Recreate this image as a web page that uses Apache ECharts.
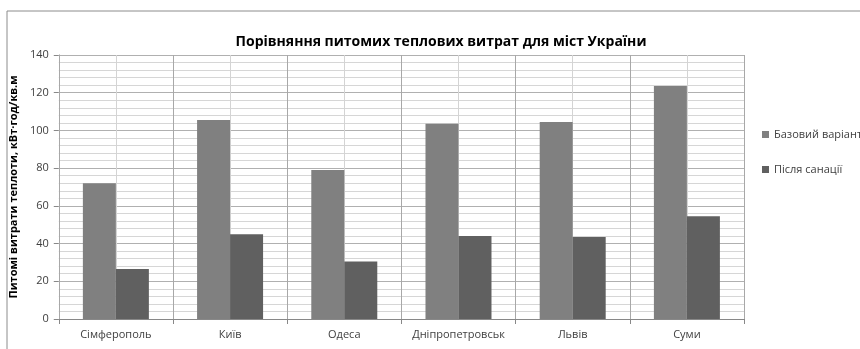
<!DOCTYPE html>
<html><head><meta charset="utf-8">
<script src="https://cdn.jsdelivr.net/npm/echarts@6/dist/echarts.min.js"></script>
<style>html,body{margin:0;padding:0;background:#fff}#c{width:860px;height:349px}</style>
</head><body><div id="c"></div>
<script>
const categories = ['Сімферополь','Київ','Одеса','Дніпропетровськ','Львів','Суми'];
const baseValues = [72, 105.5, 79, 103.5, 104.5, 123.5];
const afterValues = [26.5, 45, 30.5, 44, 43.5, 54.5];
const seriesNames = ['Базовий варіант','Після санації'];
const yTicks = {min:0, max:140, interval:20};
const titleText = 'Порівняння питомих теплових витрат для міст України';
const yName = 'Питомі витрати теплоти, кВт·год/кв.м';

const font = '"Open Sans", "Noto Sans", sans-serif';
const chart = echarts.init(document.getElementById('c'), null, {renderer:'canvas'});
chart.setOption({
  animation:false,
  backgroundColor:'#fff',
  graphic:[{type:'rect', shape:{x:7,y:11,width:900,height:400}, style:{fill:'none', stroke:'#8c8c8c', lineWidth:1}, z:-1}],
  title:{text:titleText, left:436, top:30, textAlign:'center',
    textStyle:{fontFamily:font, fontSize:14, fontWeight:'bold', color:'#000'}},
  legend:{orient:'vertical', left:757, top:124, itemGap:24, itemWidth:7, itemHeight:7,
    icon:'rect', textStyle:{fontFamily:font, fontSize:11, color:'#404040'}, data:seriesNames},
  grid:{left:57, right:116, top:55, bottom:30, containLabel:false},
  xAxis:[{type:'category', data:categories,
    axisLine:{lineStyle:{color:'#888'}},
    axisTick:{show:true, interval:0, length:5, lineStyle:{color:'#888'}},
    axisLabel:{interval:0, fontFamily:font, fontSize:11, color:'#404040', margin:10},
    splitLine:{show:true, interval:0, lineStyle:{color:'#a8a8a8', width:1}}, z:3},
   {type:'value', min:0, max:12, interval:1, show:true, position:'bottom',
    axisLine:{show:false}, axisTick:{show:false}, axisLabel:{show:false},
    splitLine:{show:true, lineStyle:{color:'#d4d4d4', width:1}}}],
  yAxis:{type:'value', min:yTicks.min, max:yTicks.max, interval:yTicks.interval,
    name:yName, nameLocation:'middle', nameGap:33, nameRotate:90,
    nameTextStyle:{fontFamily:font, fontSize:11, fontWeight:'bold', color:'#000'},
    axisLine:{show:true, lineStyle:{color:'#888'}},
    axisTick:{show:true, length:5, lineStyle:{color:'#888'}},
    axisLabel:{fontFamily:font, fontSize:11, color:'#404040', margin:10},
    splitLine:{show:true, lineStyle:{color:'#b0b0b0'}},
    minorTick:{show:false, splitNumber:5},
    minorSplitLine:{show:true, lineStyle:{color:'#d6d6d6'}}},
  series:[
    {name:seriesNames[0], type:'bar', data:baseValues, barWidth:33, barGap:'0%',
      itemStyle:{color:'#808080'}},
    {name:seriesNames[1], type:'bar', data:afterValues, barWidth:33, barGap:'0%',
      itemStyle:{color:'#606060'}}
  ]
});
</script></body></html>
